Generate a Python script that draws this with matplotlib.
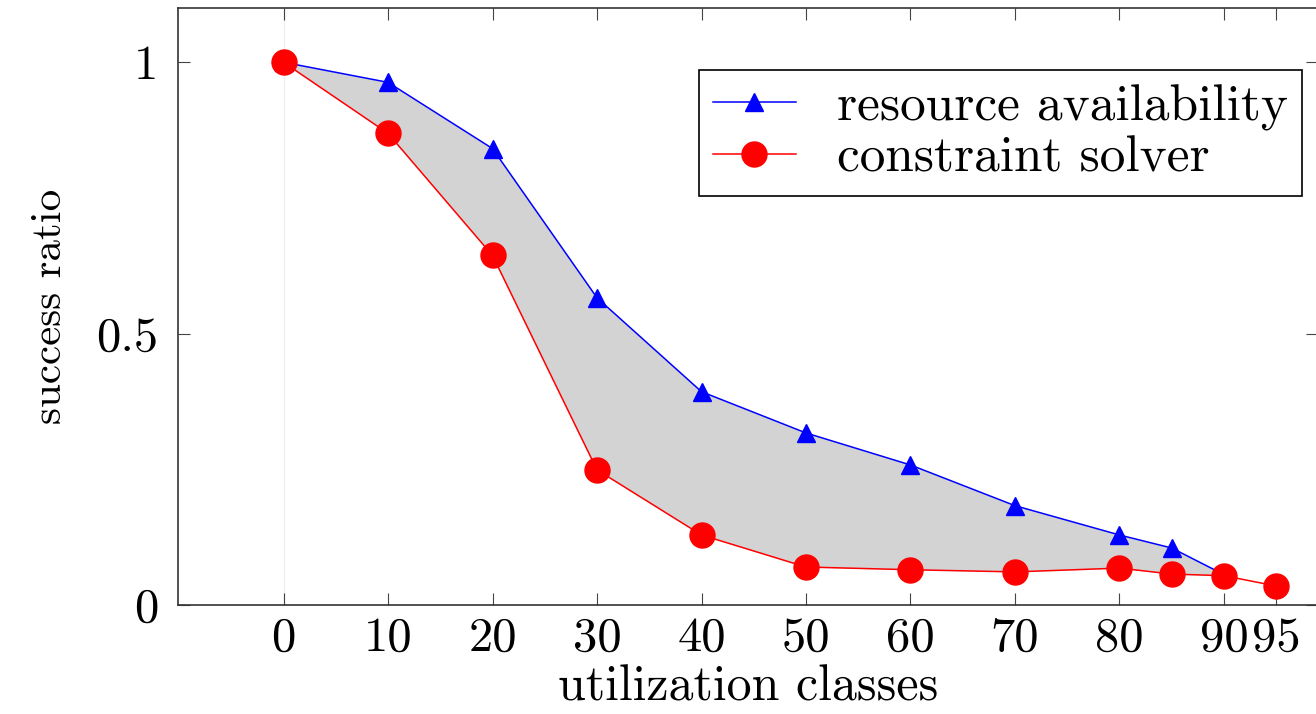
import matplotlib.pyplot as plt
import numpy as np

# utilization classes (x) and success ratios
util = [0, 10, 20, 30, 40, 50, 60, 70, 80, 85, 90, 95]
resource_avail = [1.0, 0.963, 0.841, 0.566, 0.393, 0.317, 0.258, 0.183, 0.129, 0.105, 0.056]
constraint_solver = [1.0, 0.869, 0.644, 0.249, 0.129, 0.070, 0.065, 0.061, 0.068, 0.057, 0.054, 0.035]
xticks = [0, 10, 20, 30, 40, 50, 60, 70, 80, 90, 95]
yticks = [0, 0.5, 1]
ytick_labels = ['0', '0.5', '1']

plt.rcParams['font.family'] = ['cmr10', 'DejaVu Serif']
plt.rcParams['axes.formatter.use_mathtext'] = True

fig = plt.figure(figsize=(13.16, 7.14), dpi=100)
ax = fig.add_axes([178 / 1316, 109 / 714, 1140 / 1316, 597 / 714])

n = len(resource_avail)
ax.fill_between(util[:n], constraint_solver[:n], resource_avail, color='#d3d3d3', lw=0, zorder=1)
ax.axvline(0, color='#eeeeee', lw=1, zorder=0)

ax.plot(util[:n], resource_avail, color='blue', lw=1.1, marker='^', markersize=13,
        label='resource availability', zorder=3)
ax.plot(util, constraint_solver, color='red', lw=1.1, marker='o', markersize=18,
        label='constraint solver', zorder=3)

ax.set_xlim(-10.1, 99.0)
ax.set_ylim(0, 1.1)
ax.set_xticks(xticks)
ax.set_xticklabels([str(v) for v in xticks])
ax.set_yticks(yticks)
ax.set_yticklabels(ytick_labels)
ax.tick_params(direction='in', length=8.5, width=0.8, top=True, right=True,
               labelsize=35, color='#444444')
ax.tick_params(axis='x', pad=8)
ax.tick_params(axis='y', pad=14)
for s in ax.spines.values():
    s.set_linewidth(1.2)
    s.set_color('#333333')

ax.set_xlabel('utilization classes', fontsize=36, labelpad=3)
ax.set_ylabel('success ratio', fontsize=31, labelpad=20)

leg = ax.legend(loc='upper right', bbox_to_anchor=(1302 / 1316, 1 - 70 / 714),
                bbox_transform=fig.transFigure, fontsize=37, fancybox=False,
                framealpha=1, edgecolor='black', handlelength=1.6,
                borderpad=0.28, labelspacing=0.1, handletextpad=0.8,
                borderaxespad=0)
leg.get_frame().set_linewidth(1.2)

fig.savefig('out.png', dpi=100)
